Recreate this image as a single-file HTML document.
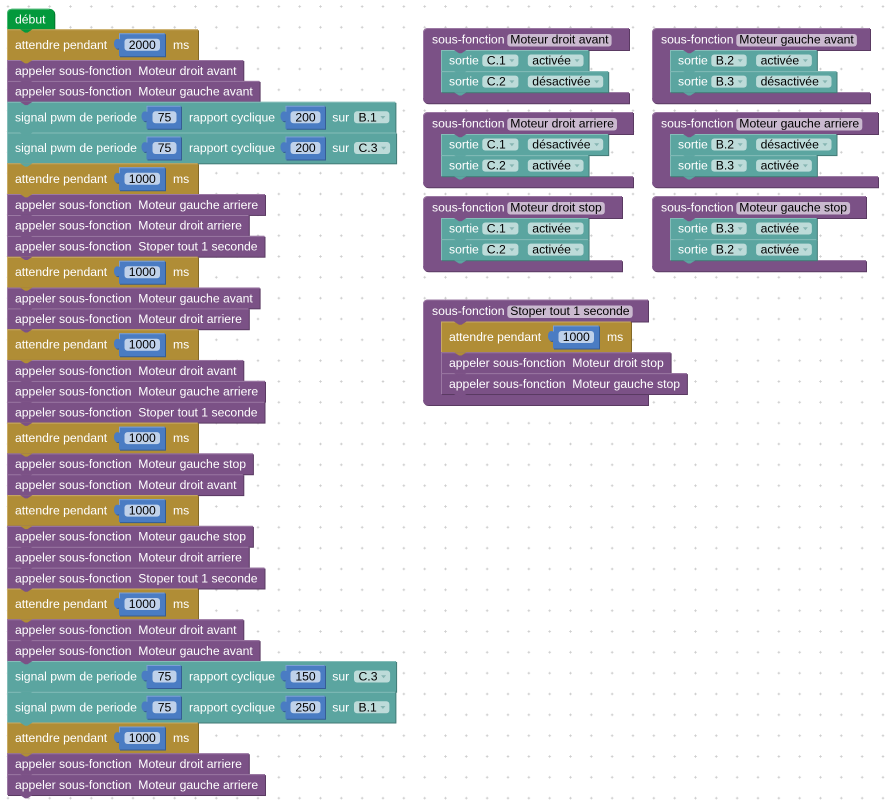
<!DOCTYPE html>
<html><head><meta charset="utf-8"><style>
html,body{margin:0;padding:0;background:#fff;overflow:hidden}
svg{display:block}
svg text{font-family:"Liberation Sans",Arial,sans-serif;font-size:12.2px;fill:#fff}
svg text.k{fill:#000}
.g{fill:#b08d36}.gd{fill:#836826}.gl{stroke:#c9aa64;fill:none;stroke-width:1}
.p{fill:#7b5186}.pd{fill:#5a3a62}.pl{stroke:#9b78a3;fill:none;stroke-width:1}
.t{fill:#5ba5a0}.td{fill:#437a76}.tl{stroke:#85bdb9;fill:none;stroke-width:1}
.v{fill:#03993c}.vd{fill:#02722c}.vl{stroke:#4cb874;fill:none;stroke-width:1}
.pf{fill:#cab9cf}.tf{fill:#bddbd9}
</style></head><body>
<svg width="891" height="806" viewBox="0 0 891 806" xmlns="http://www.w3.org/2000/svg" xmlns:xlink="http://www.w3.org/1999/xlink">
<defs>
<pattern id="grid" x="-2.42" y="-3.92" width="20.8333" height="20.8333" patternUnits="userSpaceOnUse"><path d="M9.17,10.42H11.67M10.42,9.17V11.67" stroke="#cfcfcf" stroke-width="1" fill="none"/></pattern>
<g id="inA"><path fill="#355c94" transform="translate(1 1)" d="M0,0H46V23H0V15C-3,16.5 -5,14 -5,10.5C-5,7 -3,4.5 0,6Z"/><path fill="#4a7cc3" d="M0,0H46V23H0V15C-3,16.5 -5,14 -5,10.5C-5,7 -3,4.5 0,6Z"/><path d="M0.5,6V0.5H45.5" stroke="#7ca0d6" fill="none"/><rect x="5.5" y="5.5" width="35.5" height="12" rx="3" fill="#bfd1ea"/></g>
<g id="inP1"><path fill="#355c94" transform="translate(1 1)" d="M0,0H34.5V23H0V15C-3,16.5 -5,14 -5,10.5C-5,7 -3,4.5 0,6Z"/><path fill="#4a7cc3" d="M0,0H34.5V23H0V15C-3,16.5 -5,14 -5,10.5C-5,7 -3,4.5 0,6Z"/><path d="M0.5,6V0.5H34" stroke="#7ca0d6" fill="none"/><rect x="6" y="5.5" width="24" height="12" rx="3" fill="#bfd1ea"/></g>
<g id="inP2"><path fill="#355c94" transform="translate(1 1)" d="M0,0H39.5V23H0V15C-3,16.5 -5,14 -5,10.5C-5,7 -3,4.5 0,6Z"/><path fill="#4a7cc3" d="M0,0H39.5V23H0V15C-3,16.5 -5,14 -5,10.5C-5,7 -3,4.5 0,6Z"/><path d="M0.5,6V0.5H39" stroke="#7ca0d6" fill="none"/><rect x="5" y="5.5" width="30" height="12" rx="3" fill="#bfd1ea"/></g>
<polygon id="ar" points="-2.5,-1.3 2.5,-1.3 0,1.7" fill="#86b5b2"/>
<polygon id="tG" points="0,0 5,3.3 7.5,3.3 12.5,0" fill="#b08d36"/>
<polygon id="tP" points="0,0 5,3.3 7.5,3.3 12.5,0" fill="#7b5186"/>
<polygon id="tT" points="0,0 5,3.3 7.5,3.3 12.5,0" fill="#5ba5a0"/>
<polygon id="tV" points="0,0 5,3.3 7.5,3.3 12.5,0" fill="#03993c"/>
</defs>
<rect width="891" height="806" fill="#fff"/>
<rect width="891" height="806" fill="url(#grid)"/>

<!-- LEFT STACK -->
<path class="vd" transform="translate(1 1)" d="M7,29.3V13.7Q7,8.7 12,8.7H49.3Q54.3,8.7 54.3,13.7V29.3Z"/>
<path class="v" d="M7,29.3V13.7Q7,8.7 12,8.7H49.3Q54.3,8.7 54.3,13.7V29.3Z"/>
<path class="vl" d="M7.5,29.3V13.7Q7.5,9.2 12,9.2H49.3"/>
<text x="15" y="23.3">début</text>

<!-- 1 -->
<rect class="gd" x="8" y="30.3" width="191" height="30.75"/><rect class="g" x="7" y="29.3" width="191" height="30.75"/><path class="gl" d="M7.5,60.05V29.8H197.5"/>
<text x="15" y="48.8">attendre pendant</text><use href="#inA" xlink:href="#inA" x="119" y="33.3"/><text class="k" x="142.25" y="48.8" text-anchor="middle">2000</text><text x="173" y="48.8">ms</text>
<!-- 2 -->
<rect class="pd" x="8" y="61.05" width="236.3" height="20.88"/><rect class="p" x="7" y="60.05" width="236.3" height="20.88"/><path class="pl" d="M7.5,80.93V60.55H242.8"/>
<text x="15" y="74.85">appeler sous-fonction</text><text x="138.3" y="74.85">Moteur droit avant</text>
<!-- 3 -->
<rect class="pd" x="8" y="81.93" width="252.6" height="20.88"/><rect class="p" x="7" y="80.93" width="252.6" height="20.88"/><path class="pl" d="M7.5,101.81V81.43H259.1"/>
<text x="15" y="95.73">appeler sous-fonction</text><text x="138.3" y="95.73">Moteur gauche avant</text>
<!-- 4 -->
<rect class="td" x="8" y="102.81" width="388.4" height="30.75"/><rect class="t" x="7" y="101.81" width="388.4" height="30.75"/><path class="tl" d="M7.5,132.56V102.31H394.9"/>
<text x="15" y="121.31">signal pwm de periode</text><use href="#inP1" xlink:href="#inP1" x="146.5" y="105.81"/><text class="k" x="164.5" y="121.31" text-anchor="middle">75</text>
<text x="189" y="121.31">rapport cyclique</text><use href="#inP2" xlink:href="#inP2" x="285.5" y="105.81"/><text class="k" x="305.5" y="121.31" text-anchor="middle">200</text>
<text x="332.3" y="121.31">sur</text><rect class="tf" x="354" y="111.31" width="35.4" height="12" rx="3"/><text class="k" x="358.5" y="121.31">B.1</text><use href="#ar" xlink:href="#ar" x="382.9" y="117.31"/>
<!-- 5 -->
<rect class="td" x="8" y="133.56" width="389.1" height="30.75"/><rect class="t" x="7" y="132.56" width="389.1" height="30.75"/><path class="tl" d="M7.5,163.31V133.06H395.6"/>
<text x="15" y="152.06">signal pwm de periode</text><use href="#inP1" xlink:href="#inP1" x="146.5" y="136.56"/><text class="k" x="164.5" y="152.06" text-anchor="middle">75</text>
<text x="189" y="152.06">rapport cyclique</text><use href="#inP2" xlink:href="#inP2" x="285.5" y="136.56"/><text class="k" x="305.5" y="152.06" text-anchor="middle">200</text>
<text x="332.3" y="152.06">sur</text><rect class="tf" x="354" y="142.06" width="36.1" height="12" rx="3"/><text class="k" x="358.5" y="152.06">C.3</text><use href="#ar" xlink:href="#ar" x="383.6" y="148.06"/>
<!-- 6 -->
<rect class="gd" x="8" y="164.31" width="191" height="30.75"/><rect class="g" x="7" y="163.31" width="191" height="30.75"/><path class="gl" d="M7.5,194.06V163.81H197.5"/>
<text x="15" y="182.81">attendre pendant</text><use href="#inA" xlink:href="#inA" x="119" y="167.31"/><text class="k" x="142.25" y="182.81" text-anchor="middle">1000</text><text x="173" y="182.81">ms</text>
<!-- 7 -->
<rect class="pd" x="8" y="195.06" width="258" height="20.88"/><rect class="p" x="7" y="194.06" width="258" height="20.88"/><path class="pl" d="M7.5,214.94V194.56H264.5"/>
<text x="15" y="208.86">appeler sous-fonction</text><text x="138.3" y="208.86">Moteur gauche arriere</text>
<!-- 8 -->
<rect class="pd" x="8" y="215.94" width="241.8" height="20.88"/><rect class="p" x="7" y="214.94" width="241.8" height="20.88"/><path class="pl" d="M7.5,235.82V215.44H248.3"/>
<text x="15" y="229.74">appeler sous-fonction</text><text x="138.3" y="229.74">Moteur droit arriere</text>
<!-- 9 -->
<rect class="pd" x="8" y="236.82" width="257.5" height="20.88"/><rect class="p" x="7" y="235.82" width="257.5" height="20.88"/><path class="pl" d="M7.5,256.7V236.32H264"/>
<text x="15" y="250.62">appeler sous-fonction</text><text x="138.3" y="250.62">Stoper tout 1 seconde</text>
<!-- 10 -->
<rect class="gd" x="8" y="257.7" width="191" height="30.75"/><rect class="g" x="7" y="256.7" width="191" height="30.75"/><path class="gl" d="M7.5,287.45V257.2H197.5"/>
<text x="15" y="276.2">attendre pendant</text><use href="#inA" xlink:href="#inA" x="119" y="260.7"/><text class="k" x="142.25" y="276.2" text-anchor="middle">1000</text><text x="173" y="276.2">ms</text>
<!-- 11 -->
<rect class="pd" x="8" y="288.45" width="252.6" height="20.88"/><rect class="p" x="7" y="287.45" width="252.6" height="20.88"/><path class="pl" d="M7.5,308.33V287.95H259.1"/>
<text x="15" y="302.25">appeler sous-fonction</text><text x="138.3" y="302.25">Moteur gauche avant</text>
<!-- 12 -->
<rect class="pd" x="8" y="309.33" width="241.8" height="20.88"/><rect class="p" x="7" y="308.33" width="241.8" height="20.88"/><path class="pl" d="M7.5,329.21V308.83H248.3"/>
<text x="15" y="323.13">appeler sous-fonction</text><text x="138.3" y="323.13">Moteur droit arriere</text>
<!-- 13 -->
<rect class="gd" x="8" y="330.21" width="191" height="30.75"/><rect class="g" x="7" y="329.21" width="191" height="30.75"/><path class="gl" d="M7.5,359.96V329.71H197.5"/>
<text x="15" y="348.71">attendre pendant</text><use href="#inA" xlink:href="#inA" x="119" y="333.21"/><text class="k" x="142.25" y="348.71" text-anchor="middle">1000</text><text x="173" y="348.71">ms</text>
<!-- 14 -->
<rect class="pd" x="8" y="360.96" width="236.3" height="20.88"/><rect class="p" x="7" y="359.96" width="236.3" height="20.88"/><path class="pl" d="M7.5,380.84V360.46H242.8"/>
<text x="15" y="374.76">appeler sous-fonction</text><text x="138.3" y="374.76">Moteur droit avant</text>
<!-- 15 -->
<rect class="pd" x="8" y="381.84" width="258" height="20.88"/><rect class="p" x="7" y="380.84" width="258" height="20.88"/><path class="pl" d="M7.5,401.72V381.34H264.5"/>
<text x="15" y="395.64">appeler sous-fonction</text><text x="138.3" y="395.64">Moteur gauche arriere</text>
<!-- 16 -->
<rect class="pd" x="8" y="402.72" width="257.5" height="20.88"/><rect class="p" x="7" y="401.72" width="257.5" height="20.88"/><path class="pl" d="M7.5,422.6V402.22H264"/>
<text x="15" y="416.52">appeler sous-fonction</text><text x="138.3" y="416.52">Stoper tout 1 seconde</text>
<!-- 17 -->
<rect class="gd" x="8" y="423.6" width="191" height="30.75"/><rect class="g" x="7" y="422.6" width="191" height="30.75"/><path class="gl" d="M7.5,453.35V423.1H197.5"/>
<text x="15" y="442.1">attendre pendant</text><use href="#inA" xlink:href="#inA" x="119" y="426.6"/><text class="k" x="142.25" y="442.1" text-anchor="middle">1000</text><text x="173" y="442.1">ms</text>
<!-- 18 -->
<rect class="pd" x="8" y="454.35" width="245.9" height="20.88"/><rect class="p" x="7" y="453.35" width="245.9" height="20.88"/><path class="pl" d="M7.5,474.23V453.85H252.4"/>
<text x="15" y="468.15">appeler sous-fonction</text><text x="138.3" y="468.15">Moteur gauche stop</text>
<!-- 19 -->
<rect class="pd" x="8" y="475.23" width="236.3" height="20.88"/><rect class="p" x="7" y="474.23" width="236.3" height="20.88"/><path class="pl" d="M7.5,495.11V474.73H242.8"/>
<text x="15" y="489.03">appeler sous-fonction</text><text x="138.3" y="489.03">Moteur droit avant</text>
<!-- 20 -->
<rect class="gd" x="8" y="496.11" width="191" height="30.75"/><rect class="g" x="7" y="495.11" width="191" height="30.75"/><path class="gl" d="M7.5,525.86V495.61H197.5"/>
<text x="15" y="514.61">attendre pendant</text><use href="#inA" xlink:href="#inA" x="119" y="499.11"/><text class="k" x="142.25" y="514.61" text-anchor="middle">1000</text><text x="173" y="514.61">ms</text>
<!-- 21 -->
<rect class="pd" x="8" y="526.86" width="245.9" height="20.88"/><rect class="p" x="7" y="525.86" width="245.9" height="20.88"/><path class="pl" d="M7.5,546.74V526.36H252.4"/>
<text x="15" y="540.66">appeler sous-fonction</text><text x="138.3" y="540.66">Moteur gauche stop</text>
<!-- 22 -->
<rect class="pd" x="8" y="547.74" width="241.8" height="20.88"/><rect class="p" x="7" y="546.74" width="241.8" height="20.88"/><path class="pl" d="M7.5,567.62V547.24H248.3"/>
<text x="15" y="561.54">appeler sous-fonction</text><text x="138.3" y="561.54">Moteur droit arriere</text>
<!-- 23 -->
<rect class="pd" x="8" y="568.62" width="257.5" height="20.88"/><rect class="p" x="7" y="567.62" width="257.5" height="20.88"/><path class="pl" d="M7.5,588.5V568.12H264"/>
<text x="15" y="582.42">appeler sous-fonction</text><text x="138.3" y="582.42">Stoper tout 1 seconde</text>
<!-- 24 -->
<rect class="gd" x="8" y="589.5" width="191" height="30.75"/><rect class="g" x="7" y="588.5" width="191" height="30.75"/><path class="gl" d="M7.5,619.25V589H197.5"/>
<text x="15" y="608">attendre pendant</text><use href="#inA" xlink:href="#inA" x="119" y="592.5"/><text class="k" x="142.25" y="608" text-anchor="middle">1000</text><text x="173" y="608">ms</text>
<!-- 25 -->
<rect class="pd" x="8" y="620.25" width="236.3" height="20.88"/><rect class="p" x="7" y="619.25" width="236.3" height="20.88"/><path class="pl" d="M7.5,640.13V619.75H242.8"/>
<text x="15" y="634.05">appeler sous-fonction</text><text x="138.3" y="634.05">Moteur droit avant</text>
<!-- 26 -->
<rect class="pd" x="8" y="641.13" width="252.6" height="20.88"/><rect class="p" x="7" y="640.13" width="252.6" height="20.88"/><path class="pl" d="M7.5,661.01V640.63H259.1"/>
<text x="15" y="654.93">appeler sous-fonction</text><text x="138.3" y="654.93">Moteur gauche avant</text>
<!-- 27 -->
<rect class="td" x="8" y="662.01" width="389.1" height="30.75"/><rect class="t" x="7" y="661.01" width="389.1" height="30.75"/><path class="tl" d="M7.5,691.76V661.51H395.6"/>
<text x="15" y="680.51">signal pwm de periode</text><use href="#inP1" xlink:href="#inP1" x="146.5" y="665.01"/><text class="k" x="164.5" y="680.51" text-anchor="middle">75</text>
<text x="189" y="680.51">rapport cyclique</text><use href="#inP2" xlink:href="#inP2" x="285.5" y="665.01"/><text class="k" x="305.5" y="680.51" text-anchor="middle">150</text>
<text x="332.3" y="680.51">sur</text><rect class="tf" x="354" y="670.51" width="36.1" height="12" rx="3"/><text class="k" x="358.5" y="680.51">C.3</text><use href="#ar" xlink:href="#ar" x="383.6" y="676.51"/>
<!-- 28 -->
<rect class="td" x="8" y="692.76" width="388.4" height="30.75"/><rect class="t" x="7" y="691.76" width="388.4" height="30.75"/><path class="tl" d="M7.5,722.51V692.26H394.9"/>
<text x="15" y="711.26">signal pwm de periode</text><use href="#inP1" xlink:href="#inP1" x="146.5" y="695.76"/><text class="k" x="164.5" y="711.26" text-anchor="middle">75</text>
<text x="189" y="711.26">rapport cyclique</text><use href="#inP2" xlink:href="#inP2" x="285.5" y="695.76"/><text class="k" x="305.5" y="711.26" text-anchor="middle">250</text>
<text x="332.3" y="711.26">sur</text><rect class="tf" x="354" y="701.26" width="35.4" height="12" rx="3"/><text class="k" x="358.5" y="711.26">B.1</text><use href="#ar" xlink:href="#ar" x="382.9" y="707.26"/>
<!-- 29 -->
<rect class="gd" x="8" y="723.51" width="191" height="30.75"/><rect class="g" x="7" y="722.51" width="191" height="30.75"/><path class="gl" d="M7.5,753.26V723.01H197.5"/>
<text x="15" y="742.01">attendre pendant</text><use href="#inA" xlink:href="#inA" x="119" y="726.51"/><text class="k" x="142.25" y="742.01" text-anchor="middle">1000</text><text x="173" y="742.01">ms</text>
<!-- 30 -->
<rect class="pd" x="8" y="754.26" width="241.8" height="20.88"/><rect class="p" x="7" y="753.26" width="241.8" height="20.88"/><path class="pl" d="M7.5,774.14V753.76H248.3"/>
<text x="15" y="768.06">appeler sous-fonction</text><text x="138.3" y="768.06">Moteur droit arriere</text>
<!-- 31 -->
<rect class="pd" x="8" y="775.14" width="258" height="20.88"/><rect class="p" x="7" y="774.14" width="258" height="20.88"/><path class="pl" d="M7.5,795.02V774.64H264.5"/>
<text x="15" y="788.94">appeler sous-fonction</text><text x="138.3" y="788.94">Moteur gauche arriere</text>

<!-- left stack tabs -->
<use href="#tV" xlink:href="#tV" x="20" y="29.3"/>
<use href="#tG" xlink:href="#tG" x="20" y="60.05"/>
<use href="#tP" xlink:href="#tP" x="20" y="80.93"/>
<use href="#tP" xlink:href="#tP" x="20" y="101.81"/>
<use href="#tT" xlink:href="#tT" x="20" y="132.56"/>
<use href="#tT" xlink:href="#tT" x="20" y="163.31"/>
<use href="#tG" xlink:href="#tG" x="20" y="194.06"/>
<use href="#tP" xlink:href="#tP" x="20" y="214.94"/>
<use href="#tP" xlink:href="#tP" x="20" y="235.82"/>
<use href="#tP" xlink:href="#tP" x="20" y="256.7"/>
<use href="#tG" xlink:href="#tG" x="20" y="287.45"/>
<use href="#tP" xlink:href="#tP" x="20" y="308.33"/>
<use href="#tP" xlink:href="#tP" x="20" y="329.21"/>
<use href="#tG" xlink:href="#tG" x="20" y="359.96"/>
<use href="#tP" xlink:href="#tP" x="20" y="380.84"/>
<use href="#tP" xlink:href="#tP" x="20" y="401.72"/>
<use href="#tP" xlink:href="#tP" x="20" y="422.6"/>
<use href="#tG" xlink:href="#tG" x="20" y="453.35"/>
<use href="#tP" xlink:href="#tP" x="20" y="474.23"/>
<use href="#tP" xlink:href="#tP" x="20" y="495.11"/>
<use href="#tG" xlink:href="#tG" x="20" y="525.86"/>
<use href="#tP" xlink:href="#tP" x="20" y="546.74"/>
<use href="#tP" xlink:href="#tP" x="20" y="567.62"/>
<use href="#tP" xlink:href="#tP" x="20" y="588.5"/>
<use href="#tG" xlink:href="#tG" x="20" y="619.25"/>
<use href="#tP" xlink:href="#tP" x="20" y="640.13"/>
<use href="#tP" xlink:href="#tP" x="20" y="661.01"/>
<use href="#tT" xlink:href="#tT" x="20" y="691.76"/>
<use href="#tT" xlink:href="#tT" x="20" y="722.51"/>
<use href="#tG" xlink:href="#tG" x="20" y="753.26"/>
<use href="#tP" xlink:href="#tP" x="20" y="774.14"/>
<use href="#tP" xlink:href="#tP" x="20" y="795.02"/>

<!-- DEF 1: Moteur droit avant -->
<path class="pd" transform="translate(1 1)" d="M423,33Q423,28 428,28H629V50H441V92.2H629V103.2H428Q423,103.2 423,98.2Z"/>
<path class="p" d="M423,33Q423,28 428,28H629V50H441V92.2H629V103.2H428Q423,103.2 423,98.2Z"/>
<path class="pl" d="M423.5,98.2V33Q423.5,28.5 428,28.5H628.5"/>
<text x="432" y="43.5">sous-fonction</text><rect class="pf" x="507.3" y="34" width="104.3" height="12.5" rx="3"/><text class="k" x="510.3" y="43.5">Moteur droit avant</text>
<rect class="td" x="442" y="51" width="147.55" height="21.1"/><rect class="t" x="441" y="50" width="147.55" height="21.1"/><path class="tl" d="M441.5,71.1V50.5H588.05"/>
<text x="449" y="64.6">sortie</text><rect class="tf" x="482.3" y="54.55" width="36.1" height="12" rx="3"/><text class="k" x="486.8" y="64.6">C.1</text><use href="#ar" xlink:href="#ar" x="511.9" y="60.55"/>
<rect class="tf" x="527.8" y="54.55" width="55.75" height="12" rx="3"/><text class="k" x="532.3" y="64.6">activée</text><use href="#ar" xlink:href="#ar" x="577.05" y="60.55"/>
<rect class="td" x="442" y="72.1" width="167.2" height="21.1"/><rect class="t" x="441" y="71.1" width="167.2" height="21.1"/><path class="tl" d="M441.5,92.2V71.6H607.7"/>
<text x="449" y="85.7">sortie</text><rect class="tf" x="482.3" y="75.65" width="36.1" height="12" rx="3"/><text class="k" x="486.8" y="85.7">C.2</text><use href="#ar" xlink:href="#ar" x="511.9" y="81.65"/>
<rect class="tf" x="527.8" y="75.65" width="75.4" height="12" rx="3"/><text class="k" x="532.3" y="85.7">désactivée</text><use href="#ar" xlink:href="#ar" x="596.7" y="81.65"/>
<use href="#tP" xlink:href="#tP" x="454" y="50"/><use href="#tT" xlink:href="#tT" x="454" y="71.1"/><use href="#tT" xlink:href="#tT" x="454" y="92.2"/>

<!-- DEF 3: Moteur droit arriere -->
<path class="pd" transform="translate(1 1)" d="M423,117Q423,112 428,112H633V134H441V176.2H633V187.2H428Q423,187.2 423,182.2Z"/>
<path class="p" d="M423,117Q423,112 428,112H633V134H441V176.2H633V187.2H428Q423,187.2 423,182.2Z"/>
<path class="pl" d="M423.5,182.2V117Q423.5,112.5 428,112.5H632.5"/>
<text x="432" y="127.5">sous-fonction</text><rect class="pf" x="507.3" y="118" width="109.7" height="12.5" rx="3"/><text class="k" x="510.3" y="127.5">Moteur droit arriere</text>
<rect class="td" x="442" y="135" width="167.2" height="21.1"/><rect class="t" x="441" y="134" width="167.2" height="21.1"/><path class="tl" d="M441.5,155.1V134.5H607.7"/>
<text x="449" y="148.6">sortie</text><rect class="tf" x="482.3" y="138.55" width="36.1" height="12" rx="3"/><text class="k" x="486.8" y="148.6">C.1</text><use href="#ar" xlink:href="#ar" x="511.9" y="144.55"/>
<rect class="tf" x="527.8" y="138.55" width="75.4" height="12" rx="3"/><text class="k" x="532.3" y="148.6">désactivée</text><use href="#ar" xlink:href="#ar" x="596.7" y="144.55"/>
<rect class="td" x="442" y="156.1" width="147.55" height="21.1"/><rect class="t" x="441" y="155.1" width="147.55" height="21.1"/><path class="tl" d="M441.5,176.2V155.6H588.05"/>
<text x="449" y="169.7">sortie</text><rect class="tf" x="482.3" y="159.65" width="36.1" height="12" rx="3"/><text class="k" x="486.8" y="169.7">C.2</text><use href="#ar" xlink:href="#ar" x="511.9" y="165.65"/>
<rect class="tf" x="527.8" y="159.65" width="55.75" height="12" rx="3"/><text class="k" x="532.3" y="169.7">activée</text><use href="#ar" xlink:href="#ar" x="577.05" y="165.65"/>
<use href="#tP" xlink:href="#tP" x="454" y="134"/><use href="#tT" xlink:href="#tT" x="454" y="155.1"/><use href="#tT" xlink:href="#tT" x="454" y="176.2"/>

<!-- DEF 5: Moteur droit stop -->
<path class="pd" transform="translate(1 1)" d="M423,201Q423,196 428,196H622V218H441V260.2H622V271.2H428Q423,271.2 423,266.2Z"/>
<path class="p" d="M423,201Q423,196 428,196H622V218H441V260.2H622V271.2H428Q423,271.2 423,266.2Z"/>
<path class="pl" d="M423.5,266.2V201Q423.5,196.5 428,196.5H621.5"/>
<text x="432" y="211.5">sous-fonction</text><rect class="pf" x="507.3" y="202" width="97.5" height="12.5" rx="3"/><text class="k" x="510.3" y="211.5">Moteur droit stop</text>
<rect class="td" x="442" y="219" width="147.55" height="21.1"/><rect class="t" x="441" y="218" width="147.55" height="21.1"/><path class="tl" d="M441.5,239.1V218.5H588.05"/>
<text x="449" y="232.6">sortie</text><rect class="tf" x="482.3" y="222.55" width="36.1" height="12" rx="3"/><text class="k" x="486.8" y="232.6">C.1</text><use href="#ar" xlink:href="#ar" x="511.9" y="228.55"/>
<rect class="tf" x="527.8" y="222.55" width="55.75" height="12" rx="3"/><text class="k" x="532.3" y="232.6">activée</text><use href="#ar" xlink:href="#ar" x="577.05" y="228.55"/>
<rect class="td" x="442" y="240.1" width="147.55" height="21.1"/><rect class="t" x="441" y="239.1" width="147.55" height="21.1"/><path class="tl" d="M441.5,260.2V239.6H588.05"/>
<text x="449" y="253.7">sortie</text><rect class="tf" x="482.3" y="243.65" width="36.1" height="12" rx="3"/><text class="k" x="486.8" y="253.7">C.2</text><use href="#ar" xlink:href="#ar" x="511.9" y="249.65"/>
<rect class="tf" x="527.8" y="243.65" width="55.75" height="12" rx="3"/><text class="k" x="532.3" y="253.7">activée</text><use href="#ar" xlink:href="#ar" x="577.05" y="249.65"/>
<use href="#tP" xlink:href="#tP" x="454" y="218"/><use href="#tT" xlink:href="#tT" x="454" y="239.1"/><use href="#tT" xlink:href="#tT" x="454" y="260.2"/>

<!-- DEF 2: Moteur gauche avant -->
<path class="pd" transform="translate(1 1)" d="M652,33Q652,28 657,28H870V50H670V92.2H870V103.2H657Q652,103.2 652,98.2Z"/>
<path class="p" d="M652,33Q652,28 657,28H870V50H670V92.2H870V103.2H657Q652,103.2 652,98.2Z"/>
<path class="pl" d="M652.5,98.2V33Q652.5,28.5 657,28.5H869.5"/>
<text x="661" y="43.5">sous-fonction</text><rect class="pf" x="736.3" y="34" width="120.6" height="12.5" rx="3"/><text class="k" x="739.3" y="43.5">Moteur gauche avant</text>
<rect class="td" x="671" y="51" width="146.85" height="21.1"/><rect class="t" x="670" y="50" width="146.85" height="21.1"/><path class="tl" d="M670.5,71.1V50.5H816.35"/>
<text x="678" y="64.6">sortie</text><rect class="tf" x="711.3" y="54.55" width="35.4" height="12" rx="3"/><text class="k" x="715.8" y="64.6">B.2</text><use href="#ar" xlink:href="#ar" x="740.2" y="60.55"/>
<rect class="tf" x="756.1" y="54.55" width="55.75" height="12" rx="3"/><text class="k" x="760.6" y="64.6">activée</text><use href="#ar" xlink:href="#ar" x="805.35" y="60.55"/>
<rect class="td" x="671" y="72.1" width="166.5" height="21.1"/><rect class="t" x="670" y="71.1" width="166.5" height="21.1"/><path class="tl" d="M670.5,92.2V71.6H836"/>
<text x="678" y="85.7">sortie</text><rect class="tf" x="711.3" y="75.65" width="35.4" height="12" rx="3"/><text class="k" x="715.8" y="85.7">B.3</text><use href="#ar" xlink:href="#ar" x="740.2" y="81.65"/>
<rect class="tf" x="756.1" y="75.65" width="75.4" height="12" rx="3"/><text class="k" x="760.6" y="85.7">désactivée</text><use href="#ar" xlink:href="#ar" x="825" y="81.65"/>
<use href="#tP" xlink:href="#tP" x="683" y="50"/><use href="#tT" xlink:href="#tT" x="683" y="71.1"/><use href="#tT" xlink:href="#tT" x="683" y="92.2"/>

<!-- DEF 4: Moteur gauche arriere -->
<path class="pd" transform="translate(1 1)" d="M652,117Q652,112 657,112H878V134H670V176.2H878V187.2H657Q652,187.2 652,182.2Z"/>
<path class="p" d="M652,117Q652,112 657,112H878V134H670V176.2H878V187.2H657Q652,187.2 652,182.2Z"/>
<path class="pl" d="M652.5,182.2V117Q652.5,112.5 657,112.5H877.5"/>
<text x="661" y="127.5">sous-fonction</text><rect class="pf" x="736.3" y="118" width="126" height="12.5" rx="3"/><text class="k" x="739.3" y="127.5">Moteur gauche arriere</text>
<rect class="td" x="671" y="135" width="166.5" height="21.1"/><rect class="t" x="670" y="134" width="166.5" height="21.1"/><path class="tl" d="M670.5,155.1V134.5H836"/>
<text x="678" y="148.6">sortie</text><rect class="tf" x="711.3" y="138.55" width="35.4" height="12" rx="3"/><text class="k" x="715.8" y="148.6">B.2</text><use href="#ar" xlink:href="#ar" x="740.2" y="144.55"/>
<rect class="tf" x="756.1" y="138.55" width="75.4" height="12" rx="3"/><text class="k" x="760.6" y="148.6">désactivée</text><use href="#ar" xlink:href="#ar" x="825" y="144.55"/>
<rect class="td" x="671" y="156.1" width="146.85" height="21.1"/><rect class="t" x="670" y="155.1" width="146.85" height="21.1"/><path class="tl" d="M670.5,176.2V155.6H816.35"/>
<text x="678" y="169.7">sortie</text><rect class="tf" x="711.3" y="159.65" width="35.4" height="12" rx="3"/><text class="k" x="715.8" y="169.7">B.3</text><use href="#ar" xlink:href="#ar" x="740.2" y="165.65"/>
<rect class="tf" x="756.1" y="159.65" width="55.75" height="12" rx="3"/><text class="k" x="760.6" y="169.7">activée</text><use href="#ar" xlink:href="#ar" x="805.35" y="165.65"/>
<use href="#tP" xlink:href="#tP" x="683" y="134"/><use href="#tT" xlink:href="#tT" x="683" y="155.1"/><use href="#tT" xlink:href="#tT" x="683" y="176.2"/>

<!-- DEF 6: Moteur gauche stop -->
<path class="pd" transform="translate(1 1)" d="M652,201Q652,196 657,196H866V218H670V260.2H866V271.2H657Q652,271.2 652,266.2Z"/>
<path class="p" d="M652,201Q652,196 657,196H866V218H670V260.2H866V271.2H657Q652,271.2 652,266.2Z"/>
<path class="pl" d="M652.5,266.2V201Q652.5,196.5 657,196.5H865.5"/>
<text x="661" y="211.5">sous-fonction</text><rect class="pf" x="736.3" y="202" width="113.8" height="12.5" rx="3"/><text class="k" x="739.3" y="211.5">Moteur gauche stop</text>
<rect class="td" x="671" y="219" width="146.85" height="21.1"/><rect class="t" x="670" y="218" width="146.85" height="21.1"/><path class="tl" d="M670.5,239.1V218.5H816.35"/>
<text x="678" y="232.6">sortie</text><rect class="tf" x="711.3" y="222.55" width="35.4" height="12" rx="3"/><text class="k" x="715.8" y="232.6">B.3</text><use href="#ar" xlink:href="#ar" x="740.2" y="228.55"/>
<rect class="tf" x="756.1" y="222.55" width="55.75" height="12" rx="3"/><text class="k" x="760.6" y="232.6">activée</text><use href="#ar" xlink:href="#ar" x="805.35" y="228.55"/>
<rect class="td" x="671" y="240.1" width="146.85" height="21.1"/><rect class="t" x="670" y="239.1" width="146.85" height="21.1"/><path class="tl" d="M670.5,260.2V239.6H816.35"/>
<text x="678" y="253.7">sortie</text><rect class="tf" x="711.3" y="243.65" width="35.4" height="12" rx="3"/><text class="k" x="715.8" y="253.7">B.2</text><use href="#ar" xlink:href="#ar" x="740.2" y="249.65"/>
<rect class="tf" x="756.1" y="243.65" width="55.75" height="12" rx="3"/><text class="k" x="760.6" y="253.7">activée</text><use href="#ar" xlink:href="#ar" x="805.35" y="249.65"/>
<use href="#tP" xlink:href="#tP" x="683" y="218"/><use href="#tT" xlink:href="#tT" x="683" y="239.1"/><use href="#tT" xlink:href="#tT" x="683" y="260.2"/>

<!-- DEF 7: Stoper tout 1 seconde -->
<path class="pd" transform="translate(1 1)" d="M423,304.5Q423,299.5 428,299.5H648V321.5H441V394H648V405H428Q423,405 423,400Z"/>
<path class="p" d="M423,304.5Q423,299.5 428,299.5H648V321.5H441V394H648V405H428Q423,405 423,400Z"/>
<path class="pl" d="M423.5,400V304.5Q423.5,300 428,300H647.5"/>
<text x="432" y="315">sous-fonction</text><rect class="pf" x="507.3" y="305.5" width="125.4" height="12.5" rx="3"/><text class="k" x="510.3" y="315">Stoper tout 1 seconde</text>
<rect class="gd" x="442" y="322.5" width="190" height="30.75"/><rect class="g" x="441" y="321.5" width="190" height="30.75"/><path class="gl" d="M441.5,352.25V322H630.5"/>
<text x="449" y="341">attendre pendant</text><use href="#inA" xlink:href="#inA" x="553" y="325.5"/><text class="k" x="576.25" y="341" text-anchor="middle">1000</text><text x="607" y="341">ms</text>
<rect class="pd" x="442" y="353.25" width="229.6" height="20.88"/><rect class="p" x="441" y="352.25" width="229.6" height="20.88"/><path class="pl" d="M441.5,373.13V352.75H670.1"/>
<text x="449" y="367.05">appeler sous-fonction</text><text x="572.3" y="367.05">Moteur droit stop</text>
<rect class="pd" x="442" y="374.13" width="245.9" height="20.88"/><rect class="p" x="441" y="373.13" width="245.9" height="20.88"/><path class="pl" d="M441.5,394.01V373.63H686.4"/>
<text x="449" y="387.93">appeler sous-fonction</text><text x="572.3" y="387.93">Moteur gauche stop</text>
<use href="#tP" xlink:href="#tP" x="454" y="321.5"/><use href="#tG" xlink:href="#tG" x="454" y="352.25"/><use href="#tP" xlink:href="#tP" x="454" y="373.13"/><use href="#tP" xlink:href="#tP" x="454" y="394.01"/>
</svg>
</body></html>
